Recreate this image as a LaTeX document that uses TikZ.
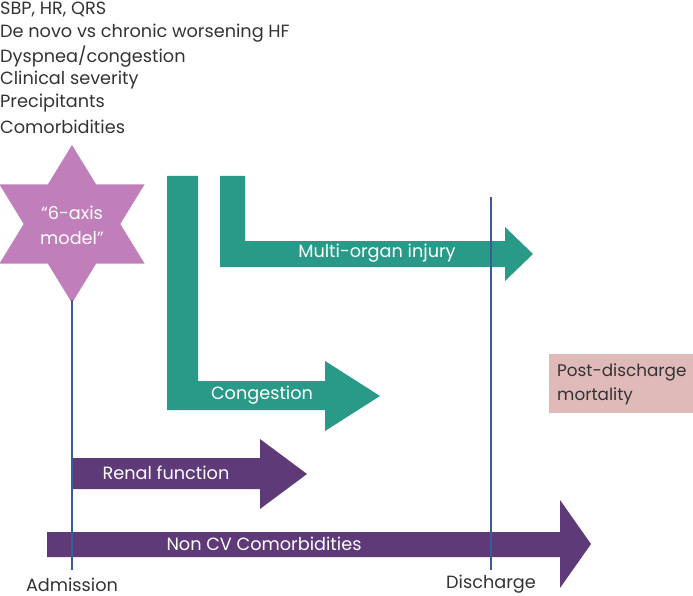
\documentclass[tikz,border=0pt]{standalone}
\usepackage{fontspec}
\setmainfont{Poppins}
\definecolor{teal}{HTML}{2A9A88}
\definecolor{plum}{HTML}{5F3A79}
\definecolor{orchid}{HTML}{C07FBA}
\definecolor{axisblue}{HTML}{3A5C95}
\definecolor{pinkbox}{HTML}{E0B9B9}
\definecolor{txt}{HTML}{333333}
\begin{document}
\begin{tikzpicture}[x=1pt,y=-1pt,
  lbl/.style={font=\fontsize{17.7}{21}\selectfont, text=txt, inner sep=0pt},
  intext/.style={font=\fontsize{17.7}{21}\selectfont, text=white, inner sep=0pt},
  timeline/.style={draw=axisblue, line width=2.5pt}]
\useasboundingbox (0,0) rectangle (693,596);
% top list
\node[lbl, anchor=west] (t1) at (0,10) {SBP, HR, QRS};
\node[lbl, anchor=west] (t2) at (0,33.3) {De novo vs chronic worsening HF};
\node[lbl, anchor=west] (t3) at (0,56.6) {Dyspnea/congestion};
\node[lbl, anchor=west] (t4) at (0,79.9) {Clinical severity};
\node[lbl, anchor=west] (t5) at (0,103.2) {Precipitants};
\node[lbl, anchor=west] (t6) at (0,126.5) {Comorbidities};
% star
\fill[orchid] (72,145) -- (96.2,184.5) -- (144.5,184.5) -- (120.3,224) -- (144.5,263.5)
  -- (96.2,263.5) -- (72,303) -- (47.8,263.5) -- (-0.5,263.5) -- (23.7,224)
  -- (-0.5,184.5) -- (47.8,184.5) -- cycle;
\node[intext, align=center, font=\fontsize{17.7}{25}\selectfont] (star) at (72,225) {“6-axis\\model”};
% teal arrows
\fill[teal] (220,176) -- (245,176) -- (245,241) -- (505,241) -- (505,227) -- (533,254)
  -- (505,281) -- (505,267) -- (220,267) -- cycle;
\fill[teal] (167,176) -- (198,176) -- (198,381) -- (325,381) -- (325,361) -- (380,396)
  -- (325,431) -- (325,410) -- (167,410) -- cycle;
\node[intext] (moi) at (377,253) {Multi-organ injury};
\node[intext] (cong) at (262,395) {Congestion};
% purple arrows
\fill[plum] (72,458) -- (260,458) -- (260,439) -- (307,474) -- (260,509) -- (260,489)
  -- (72,489) -- cycle;
\fill[plum] (47,532) -- (560,532) -- (560,500) -- (591,544) -- (560,588) -- (560,557)
  -- (47,557) -- cycle;
\node[intext] (renal) at (166,473) {Renal function};
\node[intext] (noncv) at (264,544) {Non CV Comorbidities};
% timelines
\coordinate (adtop) at (72,300);
\coordinate (adbot) at (72,570);
\coordinate (dstop) at (491,197);
\coordinate (dsbot) at (491,570);
\draw[timeline] (adtop) -- (adbot);
\draw[timeline] (dstop) -- (dsbot);
\node[lbl] (adm) at (72,584.5) {Admission};
\node[lbl] (dis) at (491,584.5) {Discharge};
% post-discharge box
\fill[pinkbox] (549,354) rectangle (693,413);
\node[lbl, anchor=west, align=left, font=\fontsize{16.8}{24}\selectfont] (post) at (557,384) {Post-discharge\\mortality};
\end{tikzpicture}
\end{document}
